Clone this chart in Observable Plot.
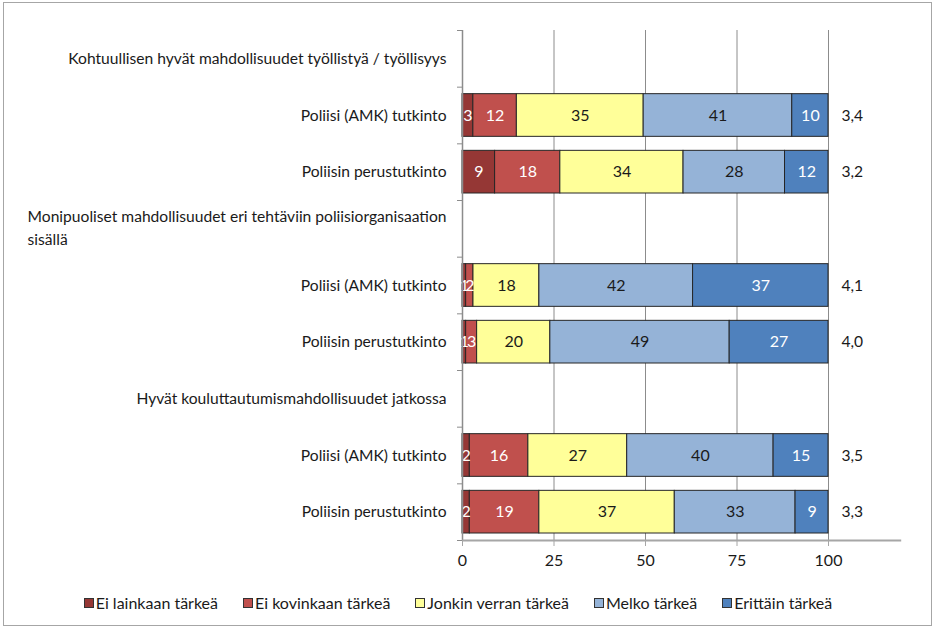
<!DOCTYPE html>
<html><head><meta charset="utf-8">
<script src="https://cdn.jsdelivr.net/npm/d3@7"></script>
<script src="https://cdn.jsdelivr.net/npm/@observablehq/plot@0.6"></script>
<style>
body{margin:0;width:934px;height:629px;overflow:hidden;background:#fff;font-family:Lato,sans-serif;position:relative;}
#frame{position:absolute;left:3px;top:2px;width:929px;height:624px;border:1px solid #a6a6a6;box-sizing:border-box;}
#chart{position:absolute;left:0;top:0;}
#legend{position:absolute;top:593px;left:0;width:916px;display:flex;justify-content:center;gap:25px;font-size:16px;color:#1a1a1a;}
#legend .item{display:flex;align-items:center;}
#legend .sw{width:8px;height:8px;border:1px solid #333;margin-right:2px;}
</style></head>
<body>
<div id="frame"></div>
<div id="chart"></div>
<div id="legend"></div>
<script>
const groups = ["Kohtuullisen hyvät mahdollisuudet työllistyä / työllisyys", "Monipuoliset mahdollisuudet eri tehtäviin poliisiorganisaation\nsisällä", "Hyvät kouluttautumismahdollisuudet jatkossa"];
const degrees = ["Poliisi (AMK) tutkinto", "Poliisin perustutkinto"];
const categories = ["Ei lainkaan tärkeä", "Ei kovinkaan tärkeä", "Jonkin verran tärkeä", "Melko tärkeä", "Erittäin tärkeä"];
const colors = ["#953735", "#c0504d", "#ffff99", "#95b3d7", "#4f81bd"];
const textColors = ["#ffffff", "#ffffff", "#1a1a1a", "#1a1a1a", "#ffffff"];
// one value per bar, in order: group1 AMK, group1 perus, group2 AMK, group2 perus, group3 AMK, group3 perus
const eiLainkaan   = [3, 9, 1, 1, 2, 2];
const eiKovinkaan  = [12, 18, 2, 3, 16, 19];
const jonkinVerran = [35, 34, 18, 20, 27, 37];
const melko        = [41, 28, 42, 49, 40, 33];
const erittain     = [10, 12, 37, 27, 15, 9];
const averages     = [3.4, 3.2, 4.1, 4.0, 3.5, 3.3];
const xTicks       = [0, 25, 50, 75, 100];

const series = [eiLainkaan, eiKovinkaan, jonkinVerran, melko, erittain];
const labelSize = 15.6;
const ctx = document.createElement("canvas").getContext("2d");
ctx.font = labelSize + "px Lato";

const headings = [];
const bars = [];
groups.forEach((g, gi) => {
  headings.push({row: gi * 3, lines: g.split("\n")});
  degrees.forEach((d, di) => bars.push({row: gi * 3 + 1 + di, label: d, b: gi * 2 + di}));
});
const segments = [];
bars.forEach(bar => {
  const vals = series.map(s => s[bar.b]);
  const total = d3.sum(vals);
  let cum = 0;
  vals.forEach((v, k) => {
    const x1 = cum / total * 100; cum += v;
    const x2 = cum / total * 100;
    segments.push({row: bar.row, x1, x2, v, k, fill: colors[k], tc: textColors[k]});
  });
});
const singleHeads = headings.filter(h => h.lines.length === 1).map(h => ({row: h.row, text: h.lines[0]}));
const multiHeads = headings.filter(h => h.lines.length > 1);
const multiLine1 = multiHeads.map(h => ({row: h.row, text: h.lines[0]}));
const multiLine2 = multiHeads.map(h => ({row: h.row, text: h.lines[1], w: ctx.measureText(h.lines[0]).width}));
const avgRows = bars.map(bar => ({row: bar.row, v: averages[bar.b]}));
const nRows = groups.length * 3;
const gray = "#8c8c8c";
const txt = "#1a1a1a";

const plot = Plot.plot({
  width: 934, height: 575,
  marginLeft: 462, marginRight: 106, marginTop: 30, marginBottom: 35,
  style: {fontFamily: "Lato", fontSize: "15px", color: txt, overflow: "visible"},
  x: {domain: [0, 100], label: null},
  y: {domain: [0, nRows], reverse: true, label: null},
  marks: [
    Plot.ruleX(xTicks.slice(1), {y1: 0, y2: nRows, stroke: gray, strokeWidth: 1}),
    Plot.rectX(segments, {x1: "x1", x2: "x2", y1: d => d.row, y2: d => d.row + 1, fill: "fill", stroke: "#262626", strokeWidth: 1, insetTop: 7, insetBottom: 7}),
    Plot.text(segments, {x: d => (d.x1 + d.x2) / 2, y: d => d.row + 0.5, text: d => String(d.v), fill: "tc", fontSize: 16}),
    Plot.ruleX([0], {y1: 0, y2: nRows, stroke: gray, strokeWidth: 1.5}),
    Plot.ruleY([nRows], {x1: 0, x2: 120, stroke: "#a6a6a6", strokeWidth: 2}),
    Plot.axisX({ticks: xTicks, tickSize: 6, tickPadding: 8, stroke: "#a6a6a6", fontSize: 16, fill: txt}),
    Plot.axisY({ticks: d3.range(nRows + 1), tickSize: 5, tickFormat: () => "", stroke: gray}),
    Plot.text(bars, {y: d => d.row + 0.5, text: "label", frameAnchor: "left", textAnchor: "end", dx: -16, fontSize: labelSize, fill: txt}),
    Plot.text(singleHeads, {y: d => d.row + 0.5, text: "text", frameAnchor: "left", textAnchor: "end", dx: -16, fontSize: labelSize, fill: txt}),
    Plot.text(multiLine1, {y: d => d.row + 0.5, text: "text", frameAnchor: "left", textAnchor: "end", dx: -16, dy: -11.5, fontSize: labelSize, fill: txt}),
    Plot.text(multiLine2, {y: d => d.row + 0.5, text: "text", frameAnchor: "left", textAnchor: "start", dx: -16 - (multiLine2.length ? multiLine2[0].w : 0), dy: 11.5, fontSize: labelSize, fill: txt}),
    Plot.text(avgRows, {x: 100, y: d => d.row + 0.5, text: d => d.v.toFixed(1).replace(".", ","), textAnchor: "start", dx: 13, fontSize: 15.6, fill: txt})
  ]
});
document.getElementById("chart").appendChild(plot);
const lg = document.getElementById("legend");
categories.forEach((c, k) => {
  const it = document.createElement("div"); it.className = "item";
  const sw = document.createElement("div"); sw.className = "sw"; sw.style.background = colors[k];
  const tx = document.createElement("span"); tx.textContent = c;
  it.appendChild(sw); it.appendChild(tx); lg.appendChild(it);
});
</script>
</body></html>
